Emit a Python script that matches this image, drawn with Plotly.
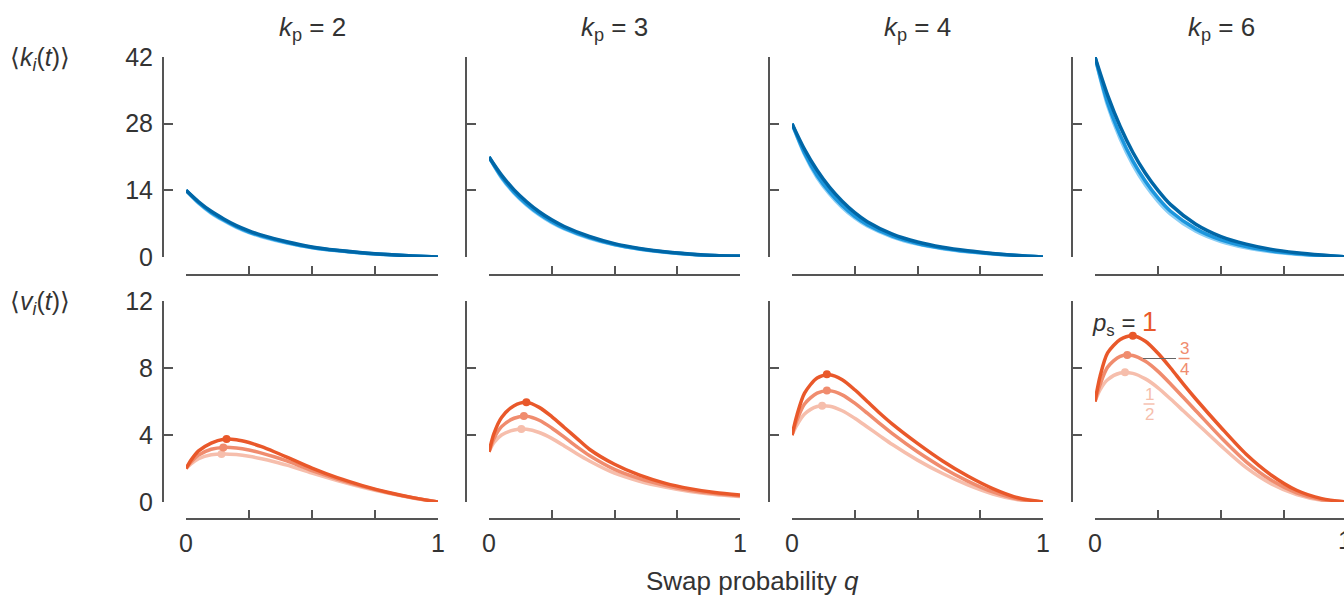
import plotly.graph_objects as go

W, H = 1344, 595

# ---------------- data ----------------
kp_values = [2, 3, 4, 6]

q_k = [0, 0.05, 0.1, 0.15, 0.2, 0.25, 0.3, 0.4, 0.5, 0.6, 0.7, 0.8, 0.9, 1.0]

# <k_i(t)> curves (order: ps=1/2, ps=3/4, ps=1)
k_kp2_half = [14, 11.3, 9.2, 7.6, 6.2, 5.1, 4.25, 2.95, 1.95, 1.3, 0.83, 0.48, 0.2, 0]
k_kp2_3q = [14, 11.4, 9.35, 7.75, 6.35, 5.25, 4.4, 3.05, 2.0, 1.35, 0.86, 0.5, 0.21, 0]
k_kp2_one = [14, 11.6, 9.6, 8.0, 6.6, 5.5, 4.6, 3.2, 2.1, 1.4, 0.9, 0.52, 0.22, 0]

k_kp3_half = [21, 16.6, 13.4, 10.9, 8.85, 7.2, 5.9, 3.93, 2.55, 1.62, 1.0, 0.58, 0.28, 0.15]
k_kp3_3q = [21, 16.8, 13.6, 11.1, 9.05, 7.4, 6.05, 4.05, 2.62, 1.68, 1.03, 0.6, 0.29, 0.17]
k_kp3_one = [21, 17.2, 14.1, 11.6, 9.5, 7.8, 6.4, 4.3, 2.8, 1.8, 1.1, 0.65, 0.32, 0.2]

k_kp4_half = [28, 21.5, 16.7, 13.2, 10.4, 8.2, 6.5, 4.2, 2.7, 1.75, 1.08, 0.62, 0.27, 0]
k_kp4_3q = [28, 21.8, 17.1, 13.6, 10.8, 8.55, 6.8, 4.4, 2.85, 1.85, 1.16, 0.67, 0.3, 0]
k_kp4_one = [28, 22.6, 18.2, 14.6, 11.7, 9.3, 7.4, 4.8, 3.15, 2.05, 1.3, 0.75, 0.33, 0]

k_kp6_half = [42, 31.8, 24.8, 19.4, 15.1, 11.7, 9.0, 5.4, 3.25, 1.95, 1.12, 0.6, 0.25, 0]
k_kp6_3q = [42, 32.4, 25.6, 20.2, 15.9, 12.4, 9.6, 5.9, 3.6, 2.2, 1.28, 0.7, 0.3, 0]
k_kp6_one = [42, 34.0, 27.4, 22.0, 17.6, 14.0, 11.0, 6.9, 4.3, 2.7, 1.6, 0.9, 0.4, 0]

q_v = [0, 0.02, 0.05, 0.1, 0.15, 0.2, 0.25, 0.3, 0.35, 0.4, 0.5, 0.6, 0.7, 0.8, 0.9, 1.0]

# <v_i(t)> curves
v_kp2_half = [2.0, 2.28, 2.58, 2.82, 2.87, 2.83, 2.73, 2.58, 2.4, 2.2, 1.72, 1.28, 0.88, 0.53, 0.24, 0]
v_kp2_3q = [2.0, 2.38, 2.8, 3.15, 3.26, 3.22, 3.1, 2.92, 2.7, 2.45, 1.87, 1.37, 0.93, 0.56, 0.25, 0]
v_kp2_one = [2.0, 2.5, 3.05, 3.52, 3.75, 3.72, 3.55, 3.3, 3.0, 2.68, 2.02, 1.45, 0.98, 0.58, 0.26, 0]

v_kp3_half = [3.0, 3.55, 4.0, 4.3, 4.34, 4.15, 3.8, 3.35, 2.88, 2.45, 1.72, 1.24, 0.89, 0.63, 0.45, 0.33]
v_kp3_3q = [3.0, 3.8, 4.5, 5.0, 5.12, 4.88, 4.42, 3.87, 3.3, 2.78, 1.95, 1.4, 1.0, 0.7, 0.5, 0.36]
v_kp3_one = [3.0, 4.1, 5.05, 5.75, 5.96, 5.65, 5.1, 4.45, 3.8, 3.15, 2.25, 1.6, 1.13, 0.8, 0.57, 0.42]

v_kp4_half = [4.0, 4.6, 5.25, 5.7, 5.72, 5.45, 5.0, 4.48, 3.95, 3.43, 2.5, 1.7, 1.02, 0.48, 0.13, 0]
v_kp4_3q = [4.0, 4.9, 5.85, 6.5, 6.64, 6.4, 5.9, 5.3, 4.68, 4.08, 3.0, 2.05, 1.25, 0.6, 0.17, 0]
v_kp4_one = [4.0, 5.2, 6.5, 7.4, 7.6, 7.3, 6.7, 6.0, 5.3, 4.65, 3.5, 2.45, 1.55, 0.8, 0.25, 0]

v_kp6_half = [6.0, 6.7, 7.3, 7.7, 7.68, 7.35, 6.82, 6.15, 5.45, 4.75, 3.35, 2.05, 1.08, 0.45, 0.11, 0]
v_kp6_3q = [6.0, 7.0, 8.05, 8.7, 8.75, 8.4, 7.8, 7.05, 6.25, 5.45, 3.85, 2.4, 1.3, 0.55, 0.14, 0]
v_kp6_one = [6.0, 7.5, 8.9, 9.7, 9.93, 9.6, 8.88, 8.0, 7.05, 6.15, 4.45, 2.85, 1.6, 0.7, 0.2, 0]

# peak markers (q, v) for ps = 1/2, 3/4, 1
peak_q_kp2 = [0.141, 0.148, 0.161]
peak_v_kp2 = [2.87, 3.26, 3.76]
peak_q_kp3 = [0.129, 0.139, 0.149]
peak_v_kp3 = [4.36, 5.13, 5.96]
peak_q_kp4 = [0.12, 0.139, 0.139]
peak_v_kp4 = [5.75, 6.65, 7.62]
peak_q_kp6 = [0.119, 0.128, 0.15]
peak_v_kp6 = [7.74, 8.78, 9.93]

k_ticks = [0, 14, 28, 42]
v_ticks = [0, 4, 8, 12]
q_ticks = [0, 0.25, 0.5, 0.75, 1]
q_ticktext = ["0", "", "", "", "1"]

k_sets = [
    [k_kp2_half, k_kp2_3q, k_kp2_one],
    [k_kp3_half, k_kp3_3q, k_kp3_one],
    [k_kp4_half, k_kp4_3q, k_kp4_one],
    [k_kp6_half, k_kp6_3q, k_kp6_one],
]
v_sets = [
    [v_kp2_half, v_kp2_3q, v_kp2_one],
    [v_kp3_half, v_kp3_3q, v_kp3_one],
    [v_kp4_half, v_kp4_3q, v_kp4_one],
    [v_kp6_half, v_kp6_3q, v_kp6_one],
]
peaks = [
    (peak_q_kp2, peak_v_kp2),
    (peak_q_kp3, peak_v_kp3),
    (peak_q_kp4, peak_v_kp4),
    (peak_q_kp6, peak_v_kp6),
]

# ---------------- style ----------------
FONT = "Liberation Sans, Arial, Helvetica, sans-serif"
TXT = "#333333"
AX = "#555555"
blues = ["rgb(138,206,245)", "rgb(28,150,221)", "rgb(0,102,166)"]
oranges = ["rgb(246,190,172)", "rgb(240,140,110)", "rgb(233,88,42)"]

col_x0 = [186, 489, 792, 1095]
col_x1 = [438, 740, 1043, 1347]
yline_x = [163, 466, 769, 1072]
rows = [  # (y top px, y bottom px, x-axis line px)
    (57, 257, 275),
    (301, 502, 519),
]


def fx(px):
    return px / W


def fy(py):
    return 1 - py / H


fig = go.Figure()
layout = dict(
    template="none",
    width=W, height=H,
    margin=dict(l=0, r=0, t=0, b=0, pad=0),
    paper_bgcolor="white", plot_bgcolor="white",
    showlegend=False,
    font=dict(family=FONT, color=TXT, size=20),
)

annotations = []
shapes = []

for r in range(2):
    ytop, ybot, xline = rows[r]
    for c in range(4):
        idx = r * 4 + c + 1
        xname = "xaxis" if idx == 1 else f"xaxis{idx}"
        yname = "yaxis" if idx == 1 else f"yaxis{idx}"
        xref = "x" if idx == 1 else f"x{idx}"
        yref = "y" if idx == 1 else f"y{idx}"

        x0, x1 = col_x0[c], col_x1[c]
        xr_end = 1.0
        if x1 > W:
            xr_end = (W - x0) / (x1 - x0)
            x1 = W
        tv = [t for t in q_ticks if t <= xr_end + 1e-9]
        tt = [q_ticktext[q_ticks.index(t)] for t in tv] if r == 1 else [""] * len(tv)

        layout[xname] = dict(
            domain=[fx(x0), fx(x1)], anchor="free", position=fy(xline),
            range=[0, xr_end], showgrid=False, zeroline=False, automargin=False,
            showline=True, linecolor=AX, linewidth=2,
            ticks="inside", ticklen=8, tickwidth=2, tickcolor=AX,
            tickvals=tv, ticktext=tt, tickfont=dict(size=25, color=TXT),
            ticklabelstandoff=2,
        )
        if r == 0:
            ymax, yt = 42, k_ticks
        else:
            ymax, yt = 12, v_ticks
        layout[yname] = dict(
            domain=[fy(ybot), fy(ytop)], anchor="free", position=fx(yline_x[c]),
            range=[0, ymax], showgrid=False, zeroline=False, automargin=False,
            showline=True, linecolor=AX, linewidth=2,
            ticks="inside", ticklen=9, tickwidth=2, tickcolor=AX,
            tickvals=yt, ticktext=[str(t) for t in yt] if c == 0 else [""] * len(yt),
            tickfont=dict(size=25, color=TXT), ticklabelstandoff=4,
        )

        if r == 0:
            for j in range(3):
                fig.add_trace(go.Scatter(
                    x=q_k, y=k_sets[c][j], mode="lines",
                    line=dict(color=blues[j], width=3.5, shape="spline", smoothing=0.8),
                    xaxis=xref, yaxis=yref, hoverinfo="skip",
                ))
        else:
            pq, pv = peaks[c]
            for j in range(3):
                fig.add_trace(go.Scatter(
                    x=q_v, y=v_sets[c][j], mode="lines",
                    line=dict(color=oranges[j], width=3.5, shape="spline", smoothing=0.8),
                    xaxis=xref, yaxis=yref, hoverinfo="skip",
                ))
                fig.add_trace(go.Scatter(
                    x=[pq[j]], y=[pv[j]], mode="markers",
                    marker=dict(color=oranges[j], size=8),
                    xaxis=xref, yaxis=yref, hoverinfo="skip",
                ))

# panel titles
for c, kp in enumerate(kp_values):
    cx = (col_x0[c] + col_x1[c]) / 2
    annotations.append(dict(
        x=fx(cx), y=fy(28), xref="paper", yref="paper",
        text=f"<i>k</i><sub>p</sub> = {kp}", showarrow=False,
        font=dict(size=26, color=TXT), xanchor="center", yanchor="middle",
    ))

# row labels
annotations.append(dict(
    x=fx(8), y=fy(59), xref="paper", yref="paper",
    text="\u27e8<i>k<sub>i</sub></i>(<i>t</i>)\u27e9", showarrow=False,
    font=dict(size=25, color=TXT), xanchor="left", yanchor="middle",
))
annotations.append(dict(
    x=fx(8), y=fy(303), xref="paper", yref="paper",
    text="\u27e8<i>v<sub>i</sub></i>(<i>t</i>)\u27e9", showarrow=False,
    font=dict(size=25, color=TXT), xanchor="left", yanchor="middle",
))

# x-axis title
annotations.append(dict(
    x=fx(752), y=fy(581), xref="paper", yref="paper",
    text="Swap probability <i>q</i>", showarrow=False,
    font=dict(size=26, color=TXT), xanchor="center", yanchor="middle",
))

# cut-off "1" tick label on last bottom panel
annotations.append(dict(
    x=fx(1345), y=fy(540), xref="paper", yref="paper",
    text="1", showarrow=False, font=dict(size=25, color=TXT),
    xanchor="center", yanchor="middle",
))

# p_s labels in last bottom panel
annotations.append(dict(
    x=fx(1090), y=fy(323), xref="paper", yref="paper",
    text=f"<i>p</i><sub>s</sub> = <span style='color:{oranges[2]};font-size:27px'>1</span>",
    showarrow=False, font=dict(size=24, color=TXT), xanchor="left", yanchor="middle",
))
# 3/4
annotations.append(dict(x=fx(1184), y=fy(348), xref="paper", yref="paper", text="3",
                        showarrow=False, font=dict(size=17, color=oranges[1]),
                        xanchor="center", yanchor="middle"))
annotations.append(dict(x=fx(1184), y=fy(369), xref="paper", yref="paper", text="4",
                        showarrow=False, font=dict(size=17, color=oranges[1]),
                        xanchor="center", yanchor="middle"))
shapes.append(dict(type="line", xref="paper", yref="paper",
                   x0=fx(1178.5), x1=fx(1189.5), y0=fy(358.5), y1=fy(358.5),
                   line=dict(color=oranges[1], width=1.5)))
shapes.append(dict(type="line", xref="paper", yref="paper",
                   x0=fx(1143), x1=fx(1176), y0=fy(358.5), y1=fy(358.5),
                   line=dict(color="#666666", width=1.2)))
# 1/2
annotations.append(dict(x=fx(1149), y=fy(394), xref="paper", yref="paper", text="1",
                        showarrow=False, font=dict(size=17, color=oranges[0]),
                        xanchor="center", yanchor="middle"))
annotations.append(dict(x=fx(1149), y=fy(414), xref="paper", yref="paper", text="2",
                        showarrow=False, font=dict(size=17, color=oranges[0]),
                        xanchor="center", yanchor="middle"))
shapes.append(dict(type="line", xref="paper", yref="paper",
                   x0=fx(1143.5), x1=fx(1154.5), y0=fy(404), y1=fy(404),
                   line=dict(color=oranges[0], width=1.5)))

layout["annotations"] = annotations
layout["shapes"] = shapes
fig.update_layout(**layout)

fig.write_html("out.html")
